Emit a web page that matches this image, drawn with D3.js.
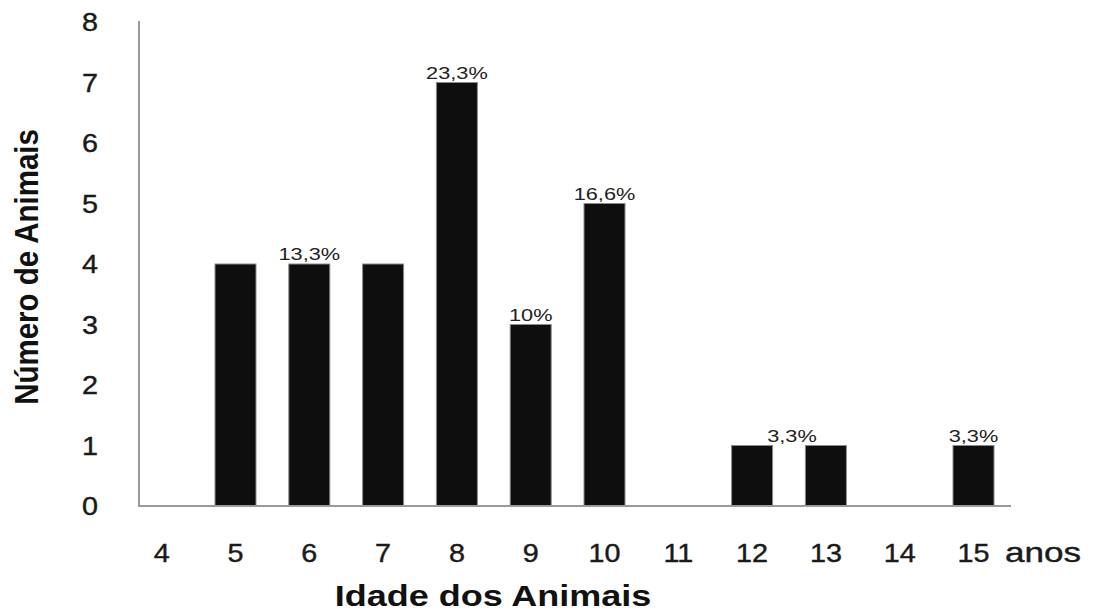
<!DOCTYPE html>
<html>
<head>
<meta charset="utf-8">
<script src="https://cdn.jsdelivr.net/npm/d3@7"></script>
<style>
  html, body { margin: 0; padding: 0; background: #fff; }
  svg { display: block; font-family: "Liberation Sans", Arial, sans-serif; }
</style>
</head>
<body>
<svg id="chart" width="1099" height="613"></svg>
<script>
// Data
const categories = ["4", "5", "6", "7", "8", "9", "10", "11", "12", "13", "14", "15"];
const counts     = [0, 4, 4, 4, 7, 3, 5, 0, 1, 1, 0, 1];
const percentLabels = ["", "", "13,3%", "", "23,3%", "10%", "16,6%", "", "", "3,3%", "", "3,3%"];
const yTicks = [0, 1, 2, 3, 4, 5, 6, 7, 8];
const xTitle = "Idade dos Animais";
const yTitle = "Número de Animais";
const unitLabel = "anos";

const svg = d3.select("#chart");
const SX = 1.15; // horizontal stretch seen in the reference text

const axisLeft = 139, axisRight = 1011;
const x = d3.scalePoint().domain(categories).range([161.7, 973.5]);
const y = d3.scaleLinear().domain([0, 8]).range([506, 22]);
const barW = 41;

// Bars
svg.append("g").selectAll("rect")
  .data(categories.map((c, i) => ({ c, v: counts[i] })).filter(d => d.v > 0))
  .join("rect")
  .attr("x", d => x(d.c) - barW / 2)
  .attr("y", d => y(d.v))
  .attr("width", barW)
  .attr("height", d => y(0) - y(d.v))
  .attr("fill", "#0e0e0e")
  .attr("stroke", "#8a8a8a")
  .attr("stroke-width", 1);

// Axis lines
svg.append("line")
  .attr("x1", axisLeft).attr("x2", axisLeft)
  .attr("y1", y(8) - 1).attr("y2", y(0) + 1)
  .attr("stroke", "#9a9a9a").attr("stroke-width", 2);
svg.append("line")
  .attr("x1", axisLeft).attr("x2", axisRight)
  .attr("y1", y(0)).attr("y2", y(0))
  .attr("stroke", "#9a9a9a").attr("stroke-width", 2);

function stretchedText(g, tx, ty, txt, opts) {
  const t = g.append("text")
    .attr("transform", `translate(${tx},${ty}) scale(${opts.sx || SX},1)`)
    .attr("text-anchor", opts.anchor || "middle")
    .attr("font-size", opts.size)
    .attr("font-weight", opts.weight || "normal")
    .attr("fill", opts.fill || "#1a1a1a")
    .text(txt);
  if (opts.thick) t.attr("stroke", opts.fill || "#1a1a1a").attr("stroke-width", opts.thick);
  return t;
}

// Y tick labels
const gy = svg.append("g");
yTicks.forEach(t => {
  stretchedText(gy, 98, y(t) + 9, String(t), { size: 25, anchor: "end", thick: 0.4 });
});

// X tick labels
const gx = svg.append("g");
categories.forEach(c => {
  stretchedText(gx, x(c), 562, c, { size: 25, thick: 0.4 });
});
stretchedText(gx, 1005, 562, unitLabel, { size: 27, sx: 1.3, anchor: "start", thick: 0.4 });

// Percent annotations
const ga = svg.append("g");
percentLabels.forEach((lab, i) => {
  if (!lab) return;
  const c = categories[i];
  let cx = x(c);
  if (c === "13") cx = x(c) - x.step() * 0.46; // label sits between the 12 and 13 bars
  stretchedText(ga, cx, y(counts[i]) - 4, lab, { size: 17, sx: 1.28, fill: "#222" });
});

// Axis titles
stretchedText(svg, 493, 606, xTitle, { size: 30, sx: 1.2, weight: "bold", fill: "#111" });
svg.append("text")
  .attr("transform", `translate(38,267) rotate(-90) scale(1,${SX})`)
  .attr("text-anchor", "middle")
  .attr("font-size", 29.5)
  .attr("font-weight", "bold")
  .attr("fill", "#111")
  .text(yTitle);
</script>
</body>
</html>
